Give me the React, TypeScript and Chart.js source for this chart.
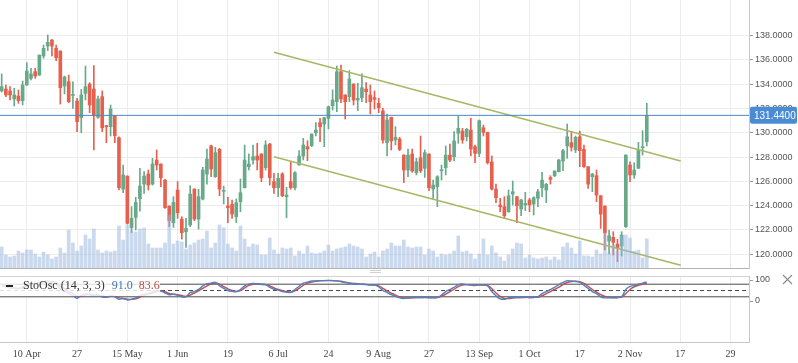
import React, { useEffect, useRef } from 'react';
import { Chart, registerables } from 'chart.js';

Chart.register(...registerables);

// ---- data (one entry per trading day) ----
const OPEN = [
  133.45, 133.61, 133.45, 132.79, 133.03, 132.65, 133.94, 134.49, 135.04, 134.76,
  136.33, 137.15, 137.65, 136.96, 136.74, 133.86, 134.21, 133.08, 132.62, 131.25,
  133.25, 134.02, 133.61, 131.28, 132.98, 130.59, 130.51, 131.41, 129.60, 125.37,
  126.44, 122.19, 123.04, 124.58, 125.78, 126.61, 125.78, 127.76, 127.43, 126.11,
  123.97, 122.60, 125.29, 122.90, 121.86, 122.41, 125.37, 122.90, 124.55, 126.61,
  128.92, 126.39, 128.64, 125.18, 123.97, 124.11, 123.09, 124.33, 125.48, 127.21,
  127.76, 128.09, 128.26, 127.13, 129.08, 125.98, 125.48, 126.61, 124.74, 125.98,
  125.48, 127.35, 128.09, 128.86, 128.94, 130.01, 130.84, 130.73, 131.19, 132.24,
  132.57, 135.04, 133.12, 132.98, 134.02, 132.70, 132.90, 133.61, 133.12, 132.90,
  132.43, 131.80, 129.19, 131.28, 129.41, 129.49, 128.17, 126.94, 128.26, 126.72,
  127.95, 127.08, 128.26, 125.37, 125.57, 126.88, 127.13, 128.17, 128.04, 129.96,
  130.15, 129.68, 130.23, 128.86, 128.31, 130.42, 130.04, 127.60, 125.37, 124.06,
  123.92, 123.51, 124.96, 124.74, 123.73, 124.06, 124.47, 124.14, 124.61, 125.48,
  125.29, 126.31, 126.47, 126.80, 127.68, 128.92, 129.19, 128.59, 129.68, 128.64,
  127.21, 126.39, 126.47, 124.82, 123.97, 121.09, 121.39, 120.84, 120.68, 122.27,
  127.35, 126.53, 127.08, 128.78, 129.27,
];
const HIGH = [
  134.85, 133.94, 133.80, 133.67, 133.53, 134.27, 135.78, 135.31, 135.31, 136.41,
  137.23, 138.06, 137.68, 137.23, 136.76, 134.68, 134.76, 134.21, 132.84, 133.58,
  135.50, 134.13, 135.53, 133.03, 133.45, 130.62, 132.29, 131.43, 129.68, 127.35,
  126.46, 123.92, 124.69, 127.07, 126.80, 126.94, 127.90, 128.59, 127.45, 126.17,
  123.99, 124.74, 125.98, 123.09, 122.96, 125.65, 125.39, 125.35, 127.16, 128.67,
  129.00, 128.81, 128.72, 125.62, 124.69, 124.47, 124.55, 126.20, 129.00, 128.26,
  129.00, 129.14, 128.28, 129.35, 129.14, 126.66, 126.66, 126.72, 125.51, 127.62,
  126.80, 128.53, 129.55, 129.35, 129.92, 130.84, 131.19, 131.28, 132.21, 133.53,
  135.50, 135.59, 133.14, 135.12, 134.04, 134.08, 134.85, 134.13, 133.94, 133.45,
  132.84, 132.02, 131.55, 131.30, 130.51, 129.63, 128.19, 128.67, 128.67, 127.90,
  129.74, 128.59, 128.28, 126.11, 126.47, 127.35, 128.92, 129.08, 130.10, 131.39,
  130.37, 130.37, 131.19, 129.00, 131.06, 130.64, 130.06, 128.09, 125.78, 124.61,
  124.74, 125.29, 126.03, 124.76, 124.52, 125.10, 124.61, 124.74, 125.35, 126.75,
  125.84, 126.47, 126.88, 127.82, 128.64, 130.73, 130.10, 129.74, 130.15, 129.00,
  127.23, 126.66, 126.94, 124.84, 123.99, 122.00, 121.86, 121.23, 121.86, 128.19,
  127.62, 127.54, 129.22, 130.18, 132.43,
];
const LOW = [
  133.36, 132.98, 132.71, 132.21, 132.43, 132.29, 133.90, 134.35, 134.49, 134.72,
  136.14, 136.77, 136.33, 135.94, 132.37, 133.20, 132.48, 132.02, 130.10, 130.01,
  132.71, 131.66, 128.59, 131.19, 130.10, 129.19, 129.74, 129.19, 125.29, 125.07,
  122.49, 121.78, 122.00, 123.56, 125.02, 125.29, 125.70, 126.94, 125.57, 123.78,
  122.27, 122.22, 122.96, 121.25, 120.57, 122.27, 122.77, 122.08, 124.47, 125.78,
  126.39, 126.33, 124.82, 124.14, 122.60, 122.96, 122.60, 123.51, 125.46, 126.94,
  127.43, 126.94, 125.98, 126.94, 125.70, 125.02, 124.74, 124.74, 123.01, 125.35,
  125.29, 127.33, 127.76, 127.71, 128.86, 129.74, 129.27, 128.86, 130.32, 131.88,
  131.74, 132.48, 131.14, 132.57, 132.29, 131.83, 132.57, 132.48, 131.55, 131.96,
  131.66, 129.14, 128.09, 128.59, 129.00, 128.53, 125.90, 126.39, 126.75, 126.53,
  126.72, 126.33, 125.24, 124.55, 123.92, 126.11, 126.53, 127.62, 127.68, 129.14,
  129.14, 129.33, 128.09, 127.54, 128.04, 129.74, 127.43, 125.29, 124.25, 123.51,
  122.96, 123.45, 124.06, 122.60, 123.18, 123.59, 123.51, 123.23, 123.92, 124.74,
  124.25, 125.78, 126.39, 126.78, 126.88, 127.90, 128.50, 128.37, 127.21, 127.16,
  125.43, 125.15, 124.33, 122.13, 120.35, 120.02, 119.94, 119.39, 119.86, 122.22,
  125.98, 126.25, 127.06, 128.17, 128.92,
];
const CLOSE = [
  133.80, 133.12, 133.12, 133.12, 132.65, 133.94, 135.09, 134.85, 134.68, 136.41,
  136.96, 137.45, 137.15, 136.19, 133.72, 134.60, 132.57, 133.12, 130.92, 133.12,
  133.80, 132.29, 131.41, 132.79, 130.42, 130.50, 131.96, 129.77, 125.48, 126.53,
  122.55, 122.96, 124.27, 125.62, 126.44, 125.70, 127.43, 127.35, 126.31, 123.84,
  122.77, 124.27, 123.42, 121.78, 122.13, 124.96, 122.90, 124.74, 126.94, 127.84,
  127.02, 128.37, 125.37, 125.22, 123.84, 123.31, 124.25, 125.07, 127.76, 127.43,
  128.04, 127.76, 126.31, 129.00, 126.31, 125.48, 126.25, 124.82, 124.88, 125.48,
  126.72, 128.09, 129.00, 128.67, 129.90, 130.23, 130.51, 131.25, 132.15, 132.70,
  135.04, 132.79, 132.57, 134.43, 132.70, 132.84, 133.72, 133.39, 132.57, 132.76,
  132.07, 129.41, 131.06, 129.33, 129.63, 128.64, 126.94, 128.17, 126.86, 127.62,
  126.88, 128.37, 125.48, 125.70, 126.39, 126.94, 128.17, 127.76, 129.33, 130.37,
  129.41, 130.29, 128.67, 128.31, 131.00, 130.04, 127.54, 125.37, 124.66, 123.92,
  123.18, 124.82, 125.15, 124.00, 124.47, 124.19, 124.06, 124.66, 125.15, 126.11,
  125.76, 126.17, 126.86, 127.76, 128.53, 129.68, 128.81, 129.63, 128.53, 127.21,
  125.78, 126.61, 124.88, 123.31, 121.78, 121.53, 120.98, 120.49, 121.58, 128.17,
  126.53, 126.94, 128.59, 128.86, 131.44,
];
const VOLUME = [
  21, 13, 11, 12, 17, 15, 18, 18, 14, 11, 16, 13, 9, 11, 20, 15, 38, 25, 17, 22,
  33, 29, 39, 18, 15, 17, 16, 17, 42, 28, 43, 37, 36, 39, 40, 24, 20, 20, 20, 25,
  53, 24, 27, 26, 19, 23, 25, 28, 29, 37, 20, 25, 43, 40, 24, 20, 17, 42, 29, 21,
  24, 23, 13, 13, 30, 18, 14, 20, 19, 20, 12, 17, 14, 22, 15, 14, 15, 17, 23, 17,
  19, 20, 21, 24, 22, 21, 19, 11, 14, 16, 11, 17, 19, 25, 22, 22, 28, 21, 20, 21,
  21, 13, 19, 17, 11, 14, 13, 14, 17, 32, 16, 17, 14, 9, 14, 29, 13, 22, 15, 11,
  7, 13, 19, 25, 24, 10, 13, 10, 9, 10, 11, 8, 11, 8, 21, 25, 20, 14, 27, 12,
  12, 11, 18, 14, 35, 15, 23, 17, 32, 33, 30, 17, 18, 10, 29,
];
const STOCH_K = [
  72, 68, 62, 60, 58, 66,
  80, 84, 82, 90, 93, 95, 90, 85,
  55, 50, 35, 25, 13,
  28, 35, 30, 25, 30, 20, 18, 25, 20,
  8, 12, 5, 8,
  15, 25, 32, 35, 45, 50, 48,
  38, 30, 32, 28, 20, 20,
  40, 45, 55, 72, 82, 85, 89,
  72, 60, 50, 46, 44,
  55, 72, 80, 84, 82, 78, 78,
  65, 55, 52, 45, 42, 41,
  55, 70, 85, 90, 95, 96, 97, 97, 98, 97, 96,
  92, 88, 85, 82, 80, 80, 78, 76, 76,
  68, 50, 40, 30, 22, 15,
  12, 16, 16, 17, 16, 18, 15, 15, 17,
  28, 45, 55, 65, 78, 81,
  78, 76, 74, 78, 76, 72,
  45, 25, 10, 8,
  15, 18, 16, 17, 18, 17, 18, 20,
  35, 45, 55, 65, 78, 88, 97,
  95, 93, 90,
  75, 60, 45, 35, 20,
  15, 15, 16, 17, 20,
  55, 70, 73, 80, 85, 91.0,
];
const STOCH_D = [
  74, 72, 66, 62, 60, 62,
  70, 78, 82, 85, 88, 92, 92, 88,
  70, 58, 45, 35, 22,
  22, 28, 32, 28, 27, 25, 20, 22, 22,
  15, 12, 9, 8,
  10, 18, 26, 32, 38, 45, 48,
  44, 36, 32, 30, 26, 22,
  28, 38, 48, 60, 72, 82, 86,
  80, 68, 58, 50, 46,
  50, 62, 74, 80, 82, 80, 78,
  72, 62, 55, 50, 45, 42,
  48, 60, 75, 85, 90, 94, 96, 97, 97, 97, 96,
  94, 90, 86, 84, 82, 80, 79, 77, 76,
  72, 60, 48, 38, 28, 20,
  15, 14, 15, 16, 16, 17, 16, 16, 16,
  22, 33, 45, 56, 68, 76,
  78, 77, 75, 76, 76, 74,
  60, 38, 22, 12,
  12, 14, 16, 16, 17, 17, 17, 18,
  25, 35, 45, 55, 66, 78, 88,
  93, 94, 92,
  84, 70, 55, 42, 30,
  22, 17, 15, 16, 18,
  35, 55, 67, 75, 80, 83.6,
];
const TICK_INDEX = [6, 18, 30, 42, 54, 66, 78, 90, 102, 114, 126, 138, 150, 162, 174];
const TICK_LABELS = ['10 Apr', '27', '15 May', '1 Jun', '19', '6 Jul', '24', '9 Aug', '27', '13 Sep', '1 Oct', '17', '2 Nov', '17', '29'];
const PRICE_TICKS = [120, 122, 124, 126, 128, 130, 132, 134, 136, 138];
const STOCH_TICKS = [0, 100];
const STOCH_LEVELS = [80, 50, 20];
const CHANNEL_X = [65, 162.1];
const CHANNEL_UPPER = [136.63, 127.68];
const CHANNEL_LOWER = [128.03, 119.09];
const STOCH_TITLE = 'StoOsc (14, 3, 3)';

// axis ranges
const X_MIN = -0.4;
const X_MAX = 178.4;
const PRICE_MIN = 118.87;
const PRICE_MAX = 140.94;
const VOL_MAX = 268;
const STOCH_MIN = -195.2;
const STOCH_MAX = 119.05;

const GREEN = '#68a98a';
const RED = '#e85f4e';
const GRID = '#ececec';
const AXIS = '#c8c8c8';
const LAST = CLOSE[CLOSE.length - 1];

const noPad = (s: any) => {
  s.paddingTop = 0;
  s.paddingBottom = 0;
  s.paddingLeft = 0;
  s.paddingRight = 0;
};

function xAxis(showLabels: boolean) {
  return {
    type: 'linear' as const,
    min: X_MIN,
    max: X_MAX,
    offset: false,
    afterBuildTicks: (s: any) => {
      s.ticks = TICK_INDEX.map((v) => ({ value: v }));
    },
    grid: { color: GRID, drawTicks: false, offset: false },
    border: { display: true, color: showLabels ? AXIS : '#b4b4b4' },
    ticks: {
      display: showLabels,
      autoSkip: false,
      maxRotation: 0,
      padding: 6,
      color: '#444',
      font: { family: 'Liberation Serif', size: 10 },
      callback: (v: any) => {
        const k = TICK_INDEX.indexOf(Number(v));
        return k >= 0 ? TICK_LABELS[k] : '';
      },
    },
    afterFit: (s: any) => {
      s.height = showLabels ? 21 : 2;
      noPad(s);
    },
  };
}

const priceTag = {
  id: 'priceTag',
  afterDraw(chart: any) {
    const ctx = chart.ctx;
    const y = chart.scales.y.getPixelForValue(LAST);
    const x0 = chart.chartArea.right + 1;
    ctx.save();
    ctx.fillStyle = '#4a8bd4';
    ctx.beginPath();
    (ctx as any).roundRect(x0, y - 8.5, 797 - x0, 17, 2);
    ctx.fill();
    ctx.fillStyle = '#ffffff';
    ctx.font = '10px "Liberation Sans"';
    ctx.textBaseline = 'middle';
    ctx.textAlign = 'left';
    ctx.fillText(LAST.toFixed(4), x0 + 4, y + 0.5);
    ctx.restore();
  },
};

const stochDecor = {
  id: 'stochDecor',
  afterDatasetsDraw(chart: any) {
    const ctx = chart.ctx;
    ctx.save();
    ctx.fillStyle = 'rgba(255,255,255,0.82)';
    ctx.fillRect(0, 7, 160, 19);
    ctx.fillStyle = '#222';
    ctx.fillRect(6, 15, 7, 2);
    ctx.font = '12px "Liberation Serif"';
    ctx.textBaseline = 'middle';
    ctx.textAlign = 'left';
    let x = 23;
    ctx.fillStyle = '#333';
    ctx.fillText(STOCH_TITLE, x, 16);
    x += ctx.measureText(STOCH_TITLE).width + 7;
    const kTxt = STOCH_K[STOCH_K.length - 1].toFixed(1);
    ctx.fillStyle = '#3f72b4';
    ctx.fillText(kTxt, x, 16);
    x += ctx.measureText(kTxt).width + 6;
    ctx.fillStyle = '#b84a47';
    ctx.fillText(STOCH_D[STOCH_D.length - 1].toFixed(1), x, 16);
    ctx.restore();
  },
  afterDraw(chart: any) {
    const ctx = chart.ctx;
    const a = chart.chartArea;
    ctx.save();
    ctx.strokeStyle = '#d4d4d4';
    ctx.lineWidth = 1;
    ctx.beginPath();
    ctx.moveTo(0, Math.round(a.top) + 0.5);
    ctx.lineTo(a.right, Math.round(a.top) + 0.5);
    ctx.stroke();
    // resize handle
    ctx.strokeStyle = '#d0d0d0';
    ctx.beginPath();
    ctx.moveTo(370, 0.5);
    ctx.lineTo(381, 0.5);
    ctx.moveTo(370, 2.5);
    ctx.lineTo(381, 2.5);
    ctx.stroke();
    // close cross
    ctx.strokeStyle = '#8a8a8a';
    ctx.lineWidth = 1.1;
    ctx.beginPath();
    ctx.moveTo(783, 5);
    ctx.lineTo(792, 14);
    ctx.moveTo(792, 5);
    ctx.lineTo(783, 14);
    ctx.stroke();
    ctx.restore();
  },
};

export default function App() {
  const mainRef = useRef<HTMLCanvasElement>(null);
  const stochRef = useRef<HTMLCanvasElement>(null);

  useEffect(() => {
    const idx = CLOSE.map((_, i) => i);
    const candleColors = idx.map((i) => (CLOSE[i] >= OPEN[i] ? GREEN : RED));

    const main = new Chart(mainRef.current as HTMLCanvasElement, {
      type: 'bar',
      data: {
        datasets: [
          {
            type: 'bar',
            data: idx.map((i) => ({ x: i, y: VOLUME[i] })),
            yAxisID: 'yv',
            backgroundColor: 'rgba(150,180,222,0.5)',
            borderWidth: 0,
            barThickness: 3,
            grouped: false,
            order: 0,
          } as any,
          {
            type: 'line',
            data: [
              { x: X_MIN, y: LAST },
              { x: X_MAX, y: LAST },
            ],
            borderColor: '#4d86c6',
            borderWidth: 1,
            pointRadius: 0,
            order: 1,
          } as any,
          {
            type: 'line',
            data: CHANNEL_X.map((x, k) => ({ x, y: CHANNEL_UPPER[k] })),
            borderColor: '#a7b865',
            borderWidth: 1.6,
            pointRadius: 0,
            order: 2,
          } as any,
          {
            type: 'line',
            data: CHANNEL_X.map((x, k) => ({ x, y: CHANNEL_LOWER[k] })),
            borderColor: '#a7b865',
            borderWidth: 1.6,
            pointRadius: 0,
            order: 2,
          } as any,
          {
            type: 'bar',
            data: idx.map((i) => ({ x: i, y: [OPEN[i], CLOSE[i]] })),
            backgroundColor: candleColors,
            borderWidth: 0,
            barThickness: 3,
            minBarLength: 1,
            grouped: false,
            order: 3,
          } as any,
          {
            type: 'bar',
            data: idx.map((i) => ({ x: i, y: [LOW[i], HIGH[i]] })),
            backgroundColor: candleColors,
            borderWidth: 0,
            barThickness: 1,
            grouped: false,
            order: 4,
          } as any,
        ],
      },
      options: {
        animation: false,
        responsive: false,
        devicePixelRatio: 1,
        events: [],
        layout: { padding: 0, autoPadding: false },
        plugins: { legend: { display: false }, tooltip: { enabled: false } },
        scales: {
          x: xAxis(false) as any,
          y: {
            type: 'linear',
            position: 'right',
            min: PRICE_MIN,
            max: PRICE_MAX,
            afterBuildTicks: (s: any) => {
              s.ticks = PRICE_TICKS.map((v) => ({ value: v }));
            },
            grid: { color: GRID, tickColor: '#999', tickLength: 4 },
            border: { color: AXIS },
            ticks: {
              color: '#555',
              padding: 2,
              font: { family: 'Liberation Sans', size: 9 },
              callback: (v: any) => Number(v).toFixed(4),
            },
            afterFit: (s: any) => {
              s.width = 49;
              noPad(s);
            },
          } as any,
          yv: { type: 'linear', display: false, min: 0, max: VOL_MAX } as any,
        },
      },
      plugins: [priceTag],
    });

    const level = (v: number, dash: number[]) =>
      ({
        type: 'line',
        data: [
          { x: X_MIN, y: v },
          { x: X_MAX, y: v },
        ],
        borderColor: '#4a4a4a',
        borderWidth: 1,
        borderDash: dash,
        pointRadius: 0,
        order: 5,
      }) as any;

    const stoch = new Chart(stochRef.current as HTMLCanvasElement, {
      type: 'line',
      data: {
        datasets: [
          {
            data: idx.map((i) => ({ x: i, y: STOCH_K[i] })),
            borderColor: '#4f81c4',
            borderWidth: 1.4,
            pointRadius: 0,
            tension: 0.3,
            order: 0,
          },
          {
            data: idx.map((i) => ({ x: i, y: STOCH_D[i] })),
            borderColor: '#c0504d',
            borderWidth: 1.4,
            pointRadius: 0,
            tension: 0.3,
            order: 1,
          },
          level(STOCH_LEVELS[0], []),
          level(STOCH_LEVELS[1], [4, 3]),
          level(STOCH_LEVELS[2], []),
        ] as any,
      },
      options: {
        animation: false,
        responsive: false,
        devicePixelRatio: 1,
        events: [],
        layout: { padding: { top: 6, left: 0, right: 0, bottom: 0 }, autoPadding: false },
        plugins: { legend: { display: false }, tooltip: { enabled: false } },
        scales: {
          x: xAxis(true) as any,
          y: {
            type: 'linear',
            position: 'right',
            min: STOCH_MIN,
            max: STOCH_MAX,
            afterBuildTicks: (s: any) => {
              s.ticks = STOCH_TICKS.map((v) => ({ value: v }));
            },
            grid: { drawOnChartArea: false, tickColor: '#999', tickLength: 4 },
            border: { color: AXIS },
            ticks: {
              color: '#555',
              padding: 2,
              font: { family: 'Liberation Sans', size: 9 },
            },
            afterFit: (s: any) => {
              s.width = 49;
              noPad(s);
            },
          } as any,
        },
      },
      plugins: [stochDecor],
    });

    return () => {
      main.destroy();
      stoch.destroy();
    };
  }, []);

  return (
    <div style={{ position: 'fixed', left: 0, top: 0, width: 798, height: 363, background: '#fff' }}>
      <canvas
        ref={mainRef}
        width={798}
        height={270}
        style={{ position: 'absolute', left: 0, top: 0, width: 798, height: 270 }}
      />
      <canvas
        ref={stochRef}
        width={798}
        height={93}
        style={{ position: 'absolute', left: 0, top: 270, width: 798, height: 93 }}
      />
    </div>
  );
}
